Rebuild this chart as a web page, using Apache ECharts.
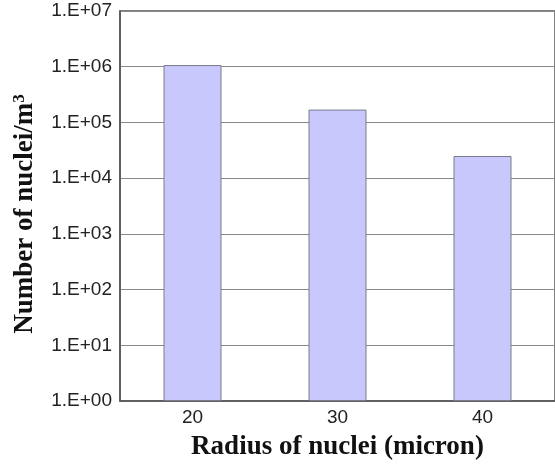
<!DOCTYPE html>
<html>
<head>
<meta charset="utf-8">
<script src="https://cdn.jsdelivr.net/npm/echarts@6/dist/echarts.min.js"></script>
<style>
  html, body { margin: 0; padding: 0; background: #fff; }
  #main { width: 555px; height: 466px; }
</style>
</head>
<body>
<div id="main"></div>
<script>
// radius of nuclei (micron) and counts per m^3
const radii = ['20', '30', '40']
const nucleiCount = [1.07e6, 1.7e5, 2.5e4]
const yMin = 1
const yMax = 1e7

function sciLabel (v) {
  const e = Math.round(Math.log10(v))
  return '1.E+' + (e < 10 ? '0' + e : e)
}

const chart = echarts.init(document.getElementById('main'))

const option = {
  animation: false,
  grid: {
    left: 120,
    top: 11,
    right: -3,
    bottom: 63,
    show: true,
    borderColor: '#555',
    borderWidth: 1.5,
    backgroundColor: 'transparent'
  },
  xAxis: {
    type: 'category',
    data: radii,
    name: 'Radius of nuclei (micron)',
    nameLocation: 'middle',
    nameGap: 33,
    nameTextStyle: {
      fontFamily: 'Liberation Serif',
      fontWeight: 'bold',
      fontSize: 27,
      color: '#111'
    },
    axisLine: { lineStyle: { color: '#555', width: 1.5 } },
    axisTick: { inside: true, length: 6, lineStyle: { color: '#777' } },
    axisLabel: {
      fontFamily: 'Liberation Sans',
      fontSize: 19,
      color: '#222',
      margin: 7
    }
  },
  yAxis: {
    type: 'log',
    logBase: 10,
    min: yMin,
    max: yMax,
    name: 'Number of nuclei/m{sup|3}',
    nameLocation: 'middle',
    nameGap: 80,
    nameTextStyle: {
      fontFamily: 'Liberation Serif',
      fontWeight: 'bold',
      fontSize: 27,
      color: '#111',
      padding: [0, 16, 0, 0],
      rich: {
        sup: {
          fontFamily: 'Liberation Serif',
          fontWeight: 'bold',
          fontSize: 17,
          color: '#111',
          verticalAlign: 'top',
          padding: [0, 0, 12, 0]
        }
      }
    },
    axisLine: { show: true, lineStyle: { color: '#555', width: 1.5 } },
    axisTick: { show: false },
    splitLine: { lineStyle: { color: '#888', width: 1 } },
    axisLabel: {
      fontFamily: 'Liberation Sans',
      fontSize: 19,
      color: '#222',
      margin: 8,
      formatter: sciLabel
    }
  },
  series: [
    {
      type: 'bar',
      data: nucleiCount,
      barWidth: '40%',
      itemStyle: {
        color: '#c8c8fc',
        borderColor: '#7a7a8c',
        borderWidth: 1
      }
    }
  ]
}
chart.setOption(option)
</script>
</body>
</html>
